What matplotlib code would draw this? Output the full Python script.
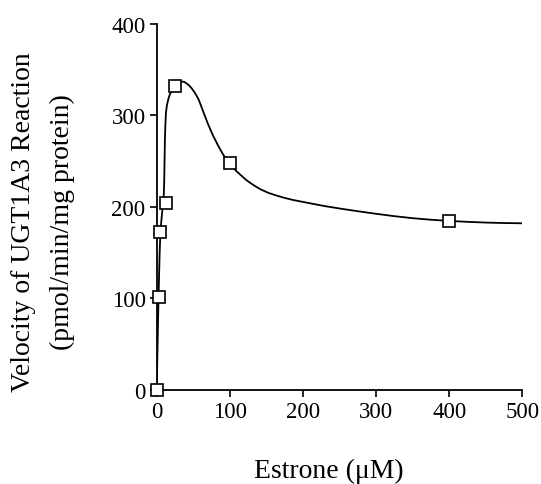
import matplotlib
matplotlib.use("Agg")
import matplotlib.pyplot as plt

# measured points (estrone uM, velocity)
conc = [0, 2.5, 5, 12.5, 25, 100, 400]
velocity = [0, 101, 172, 204, 332, 248, 185]

# fitted curve
curve_x = [0, 1, 2.5, 4, 5, 6, 7, 8, 9, 9.8, 10.3, 10.8, 11.3, 12, 12.7, 14,
           16, 18, 20, 22.5, 25, 28, 31, 34, 37, 40, 44, 48, 52, 57, 60, 64,
           70, 77, 84, 91, 100, 109, 116, 123, 132, 141, 152, 164, 175, 186,
           209, 230, 250, 275, 300, 325, 350, 375, 400, 425, 450, 475, 500]
curve_y = [0, 40, 100, 148, 170, 181, 190, 198, 205, 214, 228, 252, 275, 292,
           303, 311, 318, 323, 326, 329, 332, 334.5, 336.5, 337, 336.8, 335.5,
           333, 329.5, 325, 318, 312, 303.5, 291, 278, 267, 257, 247, 239,
           234, 229, 224, 219.6, 215.5, 212.3, 209.8, 207.6, 204, 200.8,
           198.2, 195.2, 192.4, 189.8, 187.6, 185.9, 184.6, 183.6, 182.8,
           182.3, 182]

plt.rcParams['font.family'] = ['Liberation Serif', 'DejaVu Serif']

fig = plt.figure(figsize=(5.41, 4.85), dpi=100)
ax = fig.add_axes([0.2896, 0.1944, 0.6759, 0.7541])

ax.plot(curve_x, curve_y, color='black', lw=1.3, zorder=2)
ax.plot(conc, velocity, linestyle='none', marker='s', markersize=8.5,
        markerfacecolor='white', markeredgecolor='black', markeredgewidth=1.2,
        clip_on=False, zorder=3)

ax.set_xlim(0, 500)
ax.set_ylim(0, 400)
ax.set_xticks([0, 100, 200, 300, 400, 500])
ax.set_yticks([0, 100, 200, 300, 400])

for s in ['top', 'right']:
    ax.spines[s].set_visible(False)
for s in ['left', 'bottom']:
    ax.spines[s].set_linewidth(1.3)
ax.tick_params(direction='out', length=5, width=1.2, pad=3, labelsize=16.5)

ax.set_xlabel('Estrone (\u03bcM)', fontsize=20, va='center')
ax.xaxis.set_label_coords(0.47, -0.22)
ax.set_ylabel('Velocity of UGT1A3 Reaction\n(pmol/min/mg protein)',
              fontsize=20, linespacing=1.72, va='center')
ax.yaxis.set_label_coords(-0.31, 0.46)

fig.savefig('out.png', dpi=100)
